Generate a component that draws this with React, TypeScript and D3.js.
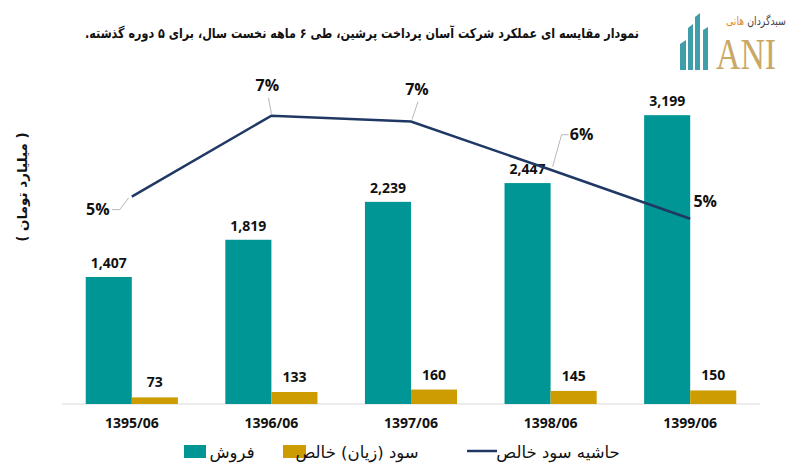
import React from "react";
import * as d3 from "d3";

const categories = ["1395/06", "1396/06", "1397/06", "1398/06", "1399/06"];
const sales = [1407, 1819, 2239, 2447, 3199];
const netProfit = [73, 133, 160, 145, 150];
const marginPct = [5.25, 7.3, 7.15, 5.93, 4.69];
const marginLabels = ["5%", "7%", "7%", "6%", "5%"];
const seriesNames = ["فروش", "سود (زیان) خالص", "حاشیه سود خالص"];
const title = "نمودار مقایسه ای عملکرد شرکت آسان پرداخت پرشین، طی ۶ ماهه نخست سال، برای ۵ دوره گذشته.";
const yTitle = "( میلیارد تومان )";

const W = 793;
const H = 474;
const TEAL = "#009695";
const GOLD = "#cc9c00";
const NAVY = "#1f3864";
const NUMFONT = "'Open Sans', sans-serif";
const FAFONT = "'DejaVu Sans', sans-serif";

// label offsets (dx, dy of text center from point) and leader polylines relative to point
const labelOffsets: [number, number][] = [
  [-34, 13],
  [-4, -30],
  [6, -32],
  [31, -35],
  [15, -17],
];
const leaders: ([number, number][] | null)[] = [
  [[-3, 1], [-12, 13], [-20, 13]],
  [[0, -2], [-3, -18]],
  [[1, -2], [7, -20]],
  [[2, -3], [11, -35], [18, -35]],
  null,
];

export default function App() {
  const x0 = d3
    .scaleBand<string>()
    .domain(categories)
    .range([62, 760])
    .paddingInner(0.34)
    .paddingOuter(0.17);
  const x1 = d3
    .scaleBand<string>()
    .domain(["sales", "profit"])
    .range([0, x0.bandwidth()]);
  const y = d3.scaleLinear().domain([0, 3500]).range([404, 88]);
  const y2 = d3.scaleLinear().domain([0, 8]).range([404, 88]);

  const pts: [number, number][] = categories.map((c, i) => [
    (x0(c) as number) + x0.bandwidth() / 2,
    y2(marginPct[i]),
  ]);
  const line = d3.line<[number, number]>()(pts) as string;

  return (
    <svg
      width={W}
      height={H}
      style={{ position: "absolute", left: 0, top: 0, background: "#fff" }}
    >
      <rect x={0} y={0} width={W} height={H} fill="#fff" />
      {/* title */}
      <text
        transform="translate(362,38) scale(0.86,1.05)"
        direction="rtl"
        textAnchor="middle"
        fontFamily={FAFONT}
        fontWeight="bold"
        fontSize={13}
        fill="#111"
      >
        {title}
      </text>

      {/* logo */}
      <g>
        <path d="M680,44 L686,40 L686,70 L680,70 Z" fill="#3f9ea9" />
        <path d="M688,28 L693,24 L693,70 L688,70 Z" fill="#3f9ea9" />
        <path d="M695,17 L700,13 L700,70 L695,70 Z" fill="#3f9ea9" />
        <path d="M703,30 L708,27 L708,70 L703,70 Z" fill="#3f9ea9" />
        <text
          x={746}
          y={69}
          textAnchor="middle"
          fontFamily="'Liberation Serif', serif"
          fontSize={44}
          fill="#c9a866"
          textLength={60}
          lengthAdjust="spacingAndGlyphs"
        >
          ANI
        </text>
        <text
          transform="translate(756,25) scale(0.85,1.1)"
          direction="rtl"
          textAnchor="middle"
          fontFamily={FAFONT}
          fontSize={11}
        >
          <tspan fill="#444">سبدگردان</tspan>
          <tspan fill="#e08a2c"> هانی</tspan>
        </text>
      </g>

      {/* y axis title */}
      <text
        transform="translate(27,187) rotate(-90)"
        direction="rtl"
        textAnchor="middle"
        fontFamily={FAFONT}
        fontWeight="bold"
        fontSize={13.5}
        fill="#111"
      >
        {yTitle}
      </text>

      {/* axis line */}
      <line x1={62} x2={760} y1={404} y2={404} stroke="#d9d9d9" strokeWidth={1} />

      {/* bars */}
      {categories.map((c, i) => {
        const gx = x0(c) as number;
        const sx = gx + (x1("sales") as number);
        const px = gx + (x1("profit") as number);
        const bw = x1.bandwidth();
        return (
          <g key={c}>
            <rect x={sx} y={y(sales[i])} width={bw} height={404 - y(sales[i])} fill={TEAL} />
            <rect x={px} y={y(netProfit[i])} width={bw} height={404 - y(netProfit[i])} fill={GOLD} />
            <text
              x={sx + bw / 2}
              y={y(sales[i]) - 9}
              textAnchor="middle"
              fontFamily={NUMFONT}
              fontWeight="bold"
              fontSize={14}
              fill="#111"
            >
              {d3.format(",")(sales[i])}
            </text>
            <text
              x={px + bw / 2}
              y={y(netProfit[i]) - 10}
              textAnchor="middle"
              fontFamily={NUMFONT}
              fontWeight="bold"
              fontSize={14}
              fill="#111"
            >
              {d3.format(",")(netProfit[i])}
            </text>
            <text
              x={gx + x0.bandwidth() / 2}
              y={428}
              textAnchor="middle"
              fontFamily={NUMFONT}
              fontWeight="bold"
              fontSize={14}
              fill="#111"
            >
              {c}
            </text>
          </g>
        );
      })}

      {/* margin line */}
      <path d={line} fill="none" stroke={NAVY} strokeWidth={2.5} />
      {pts.map((p, i) => {
        const ld = leaders[i];
        return (
          <g key={"l" + i}>
            {ld && (
              <polyline
                points={ld.map((d) => `${p[0] + d[0]},${p[1] + d[1]}`).join(" ")}
                fill="none"
                stroke="#a6a6a6"
                strokeWidth={0.8}
              />
            )}
            <text
              x={p[0] + labelOffsets[i][0]}
              y={p[1] + labelOffsets[i][1]}
              dy="0.35em"
              textAnchor="middle"
              fontFamily={NUMFONT}
              fontWeight="bold"
              fontSize={16}
              fill="#111"
            >
              {marginLabels[i]}
            </text>
          </g>
        );
      })}

      {/* legend */}
      <g>
        <rect x={184} y={445} width={22} height={13} fill={TEAL} />
        <text x={232} y={458} direction="rtl" textAnchor="middle" fontFamily={FAFONT} fontSize={16.5} fill="#111">
          {seriesNames[0]}
        </text>
        <rect x={283} y={445} width={23} height={13} fill={GOLD} />
        <text x={357} y={458} direction="rtl" textAnchor="middle" fontFamily={FAFONT} fontSize={16.5} fill="#111">
          {seriesNames[1]}
        </text>
        <line x1={467} x2={497} y1={451} y2={451} stroke={NAVY} strokeWidth={2.5} />
        <text x={558} y={458} direction="rtl" textAnchor="middle" fontFamily={FAFONT} fontSize={16.5} fill="#111">
          {seriesNames[2]}
        </text>
      </g>
    </svg>
  );
}
